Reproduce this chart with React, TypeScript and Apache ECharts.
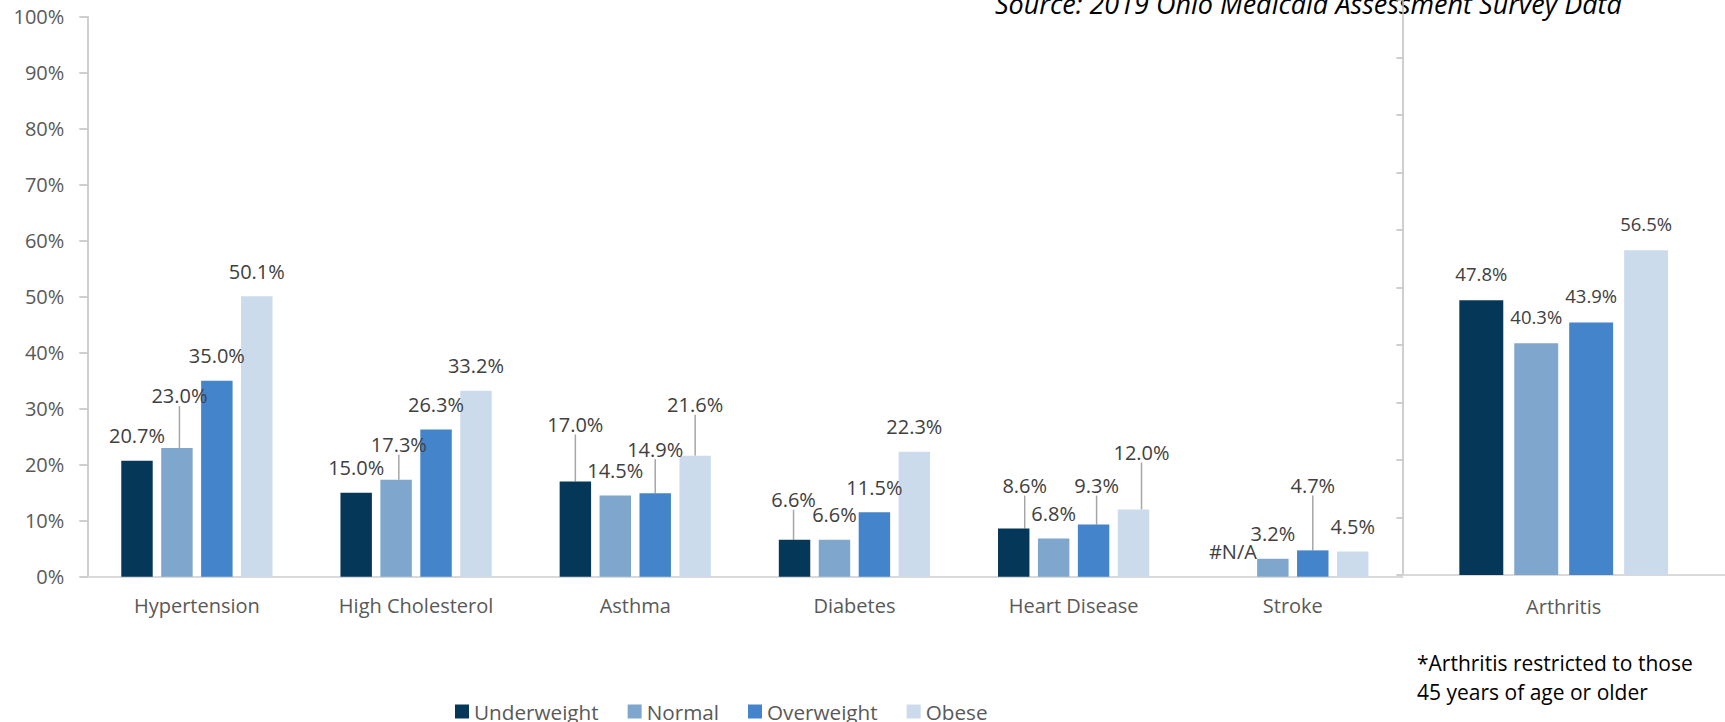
import React, { useEffect, useRef } from 'react';
import * as echarts from 'echarts';

// ---------- data ----------
const categories = ['Hypertension', 'High Cholesterol', 'Asthma', 'Diabetes', 'Heart Disease', 'Stroke'];
const arthritisCategories = ['Arthritis'];
const seriesNames = ['Underweight', 'Normal', 'Overweight', 'Obese'];

const underweight: (number | null)[] = [20.7, 15.0, 17.0, 6.6, 8.6, null];
const normal: (number | null)[] = [23.0, 17.3, 14.5, 6.6, 6.8, 3.2];
const overweight: (number | null)[] = [35.0, 26.3, 14.9, 11.5, 9.3, 4.7];
const obese: (number | null)[] = [50.1, 33.2, 21.6, 22.3, 12.0, 4.5];

const arthritisUnderweight = [47.8];
const arthritisNormal = [40.3];
const arthritisOverweight = [43.9];
const arthritisObese = [56.5];

const yMin = 0;
const yMax = 100;
const yStep = 10;

const sourceNote = 'Source: 2019 Ohio Medicaid Assessment Survey Data';
const footnoteLines = ['*Arthritis restricted to those', '45 years of age or older'];
const naLabel = '#N/A';

// ---------- styles ----------
const colors = ['#053858', '#7FA6CD', '#4384CA', '#CBDBEC'];
const FONT = '"Open Sans", sans-serif';
// label offsets (dx, dy) for labels that were moved away from their bars (series-data)
const labelNudges: Record<string, [number, number]> = {
  '1-0': [2.5, -27],
  '1-1': [2.7, -10],
  '0-2': [0, -32],
  '2-2': [0, -19],
  '3-2': [0, -26],
  '0-3': [-1, -15],
  '0-4': [11, -18],
  '2-4': [3, -14],
  '3-4': [8, -32],
  '2-5': [0, -40],
};
const LINE_PAD = 8;

const fmt = (v: number) => v.toFixed(1) + '%';

function buildMainSeries() {
  return [underweight, normal, overweight, obese].map((vals, si) => ({
    type: 'bar',
    name: seriesNames[si],
    xAxisIndex: 0,
    yAxisIndex: 0,
    barGap: '27%',
    barCategoryGap: '31%',
    itemStyle: { color: colors[si] },
    label: {
      show: true,
      position: 'top',
      distance: 15,
      color: '#404040',
      fontSize: 20,
      fontFamily: FONT,
      formatter: (p: any) => fmt(Number(p.value)),
    },
    labelLine: { show: false, lineStyle: { color: '#a6a6a6', width: 1.5 } },
    labelLayout: (params: any) => {
      const n = labelNudges[`${params.seriesIndex}-${params.dataIndex}`];
      return n ? { dx: n[0], dy: n[1] + LINE_PAD } : {};
    },
    data: vals.map((v, di) => {
      const item: any = { value: v == null ? 0 : v };
      if (v == null) item.label = { formatter: naLabel };
      if (labelNudges[`${si}-${di}`]) {
        item.labelLine = { show: true };
        item.label = { ...(item.label || {}), padding: [0, 0, LINE_PAD, 0] };
      }
      return item;
    }),
  }));
}

function buildArthritisSeries() {
  return [arthritisUnderweight, arthritisNormal, arthritisOverweight, arthritisObese].map((vals, si) => ({
    type: 'bar',
    name: seriesNames[si],
    xAxisIndex: 1,
    yAxisIndex: 1,
    barGap: '25%',
    barCategoryGap: '35.3%',
    itemStyle: { color: colors[si] },
    label: {
      show: true,
      position: 'top',
      distance: 17.5,
      color: '#404040',
      fontSize: 18.5,
      fontFamily: FONT,
      formatter: (p: any) => fmt(Number(p.value)),
    },
    data: vals,
  }));
}

export default function App() {
  const ref = useRef<HTMLDivElement>(null);
  useEffect(() => {
    if (!ref.current) return;
    const chart = echarts.init(ref.current, null, { renderer: 'svg' });
    const option: any = {
      animation: false,
      backgroundColor: '#ffffff',
      textStyle: { fontFamily: FONT },
      grid: [
        { left: 87.3, right: 322.6, top: 16.7, bottom: 145.3, containLabel: false },
        { left: 1402.4, right: 0, top: -4.3, bottom: 147, containLabel: false },
      ],
      xAxis: [
        {
          type: 'category',
          gridIndex: 0,
          data: categories,
          axisLine: { show: true, lineStyle: { color: '#d9d9d9', width: 2 } },
          axisTick: { show: false },
          axisLabel: { color: '#595959', fontSize: 20, fontFamily: FONT, margin: 19, interval: 0 },
        },
        {
          type: 'category',
          gridIndex: 1,
          data: arthritisCategories,
          axisLine: { show: true, lineStyle: { color: '#d9d9d9', width: 2 } },
          axisTick: { show: false },
          axisLabel: { color: '#595959', fontSize: 20, fontFamily: FONT, margin: 21 },
        },
      ],
      yAxis: [
        {
          type: 'value',
          gridIndex: 0,
          min: yMin,
          max: yMax,
          interval: yStep,
          axisLine: { show: true, lineStyle: { color: '#bfbfbf', width: 1.5 } },
          axisTick: { show: true, length: 8, lineStyle: { color: '#bfbfbf', width: 1.5 } },
          splitLine: { show: false },
          axisLabel: { color: '#595959', fontSize: 20, fontFamily: FONT, margin: 23, formatter: '{value}%' },
        },
        {
          type: 'value',
          gridIndex: 1,
          min: yMin,
          max: yMax,
          interval: yStep,
          axisLine: { show: true, lineStyle: { color: '#bfbfbf', width: 1.5 } },
          axisTick: { show: true, length: 6, lineStyle: { color: '#bfbfbf', width: 1.5 } },
          splitLine: { show: false },
          axisLabel: { show: false },
        },
      ],
      legend: {
        data: seriesNames,
        left: 455,
        top: 701,
        padding: 0,
        icon: 'rect',
        itemWidth: 14,
        itemHeight: 14,
        itemGap: 29,
        selectedMode: false,
        textStyle: { color: '#595959', fontSize: 20.7, fontFamily: FONT },
      },
      graphic: [
        {
          type: 'text',
          left: 995,
          top: -10,
          style: { text: sourceNote, font: 'italic 27px "Open Sans", sans-serif', fill: '#000000' },
        },
        {
          type: 'text',
          left: 1417,
          top: 648,
          style: {
            text: footnoteLines.join('\n'),
            font: '21px "Open Sans", sans-serif',
            fill: '#000000',
            lineHeight: 29.3,
          },
        },
      ],
      series: [...buildMainSeries(), ...buildArthritisSeries()],
    };
    chart.setOption(option);
    return () => chart.dispose();
  }, []);
  return (
    <div
      ref={ref}
      style={{ position: 'absolute', left: 0, top: 0, width: 1725, height: 722, background: '#ffffff' }}
    />
  );
}
